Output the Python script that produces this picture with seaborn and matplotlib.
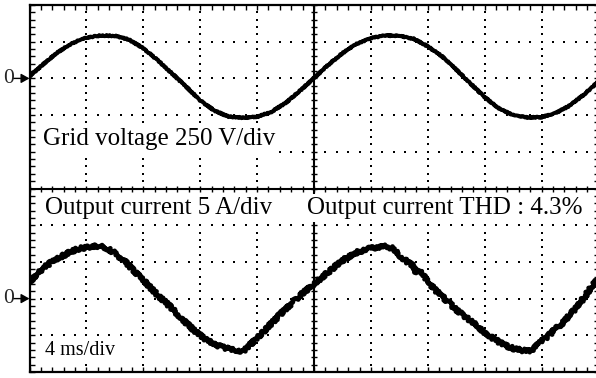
import numpy as np
import pandas as pd
import matplotlib
matplotlib.use("Agg")
import matplotlib.pyplot as plt
import seaborn as sns

# ---- scope settings -------------------------------------------------------
MS_PER_DIV = 4        # horizontal scale
VOLT_PER_DIV = 250    # channel 1: grid voltage
AMP_PER_DIV = 5       # channel 2: output current
VOLT_ZERO_DIV = 3     # ground marker of channel 1 (divisions above centre)
CURR_ZERO_DIV = -3    # ground marker of channel 2 (divisions below centre)

# ---- captured traces --------------------------------------------------------
t_voltage_ms = list(range(0, 41))
grid_voltage_V = [14, 100, 180, 240, 278, 292, 290, 264, 205, 125,
                  35, -55, -150, -220, -260, -268, -262, -228, -168, -85,
                  2, 92, 172, 236, 274, 292, 290, 270, 218, 150,
                  60, -35, -128, -205, -250, -266, -264, -236, -184, -108,
                  -20]

t_current_ms = [0.0, 0.5, 1.0, 1.5, 2.0, 2.5, 3.0, 3.5, 4.0, 4.5,
                5.0, 5.5, 6.0, 6.5, 7.0, 7.5, 8.0, 8.5, 9.0, 9.5,
                10.0, 10.5, 11.0, 11.5, 12.0, 12.5, 13.0, 13.5, 14.0, 14.5,
                15.0, 15.3, 15.7, 16.5, 17.0, 17.5, 18.0, 18.5, 19.0, 19.5,
                20.0, 20.5, 21.0, 21.5, 22.0, 22.5, 23.0, 23.5, 24.0, 24.5,
                25.0, 25.5, 26.0, 26.5, 27.0, 27.2, 27.4, 28.0, 28.5, 29.0,
                29.5, 30.0, 30.5, 31.0, 31.5, 32.0, 32.5, 33.0, 33.5, 34.0,
                34.5, 35.0, 35.3, 35.9, 36.5, 37.0, 37.5, 38.0, 38.5, 39.0,
                39.5, 40.0]
output_current_A = [2.3, 3.3, 4.2, 4.9, 5.5, 6.0, 6.5, 6.8, 7.0, 7.15,
                    7.1, 6.8, 6.2, 5.4, 4.5, 3.5, 2.5, 1.5, 0.5, -0.4,
                    -1.3, -2.3, -3.3, -4.2, -5.0, -5.7, -6.2, -6.6, -6.85, -7.0,
                    -7.2, -6.7, -5.9, -4.4, -3.4, -2.4, -1.4, -0.5, 0.4, 1.2,
                    2.0, 2.8, 3.6, 4.4, 5.2, 5.8, 6.3, 6.6, 6.9, 7.0,
                    7.1, 6.9, 5.9, 5.1, 4.4, 3.5, 3.8, 2.3, 1.2, 0.3,
                    -0.6, -1.5, -2.3, -3.0, -3.8, -4.6, -5.3, -5.9, -6.4, -6.8,
                    -7.0, -7.15, -7.0, -6.0, -5.0, -4.1, -3.3, -2.2, -1.1, 0.2,
                    1.6, 2.7]

voltage_label = "Grid voltage 250 V/div"
current_label = "Output current 5 A/div"
thd_label = "Output current THD : 4.3%"
time_label = "4 ms/div"

# ---- convert to screen divisions ---------------------------------------------
volt_df = pd.DataFrame({
    "x": np.array(t_voltage_ms) / MS_PER_DIV,
    "y": VOLT_ZERO_DIV + np.array(grid_voltage_V) / VOLT_PER_DIV,
})
curr_df = pd.DataFrame({
    "x": np.array(t_current_ms) / MS_PER_DIV,
    "y": CURR_ZERO_DIV + np.array(output_current_A) / AMP_PER_DIV,
})

sns.set_theme(style="white")
plt.rcParams["font.family"] = ["Liberation Serif", "DejaVu Serif"]

W, H = 596, 378
fig = plt.figure(figsize=(W / 100, H / 100), dpi=100)
fig.patch.set_facecolor("white")

# screen area: 10 x 10 divisions, right edge runs just past the image
left_px, top_px, bottom_px, div_px = 29.5, 5.0, 372.0, 56.9
ax = fig.add_axes([left_px / W, (H - bottom_px) / H,
                   10 * div_px / W, (bottom_px - top_px) / H])
ax.set_xlim(0, 10)
ax.set_ylim(-5, 5)
ax.set_facecolor("white")

minor = np.round(np.arange(0, 10.001, 0.2), 2)
minor_y = np.round(np.arange(-5, 5.001, 0.2), 2)

# dotted graticule
dots_x, dots_y = [], []
for k in [1, 2, 3, 4, 6, 7, 8, 9]:
    dots_x += [k] * len(minor_y)
    dots_y += list(minor_y)
for j in [-4, -3, -2, -1, 1, 2, 3, 4]:
    dots_x += list(minor)
    dots_y += [j] * len(minor)
ax.scatter(dots_x, dots_y, s=2.8, marker="s", color="black", linewidths=0, zorder=1)

# centre axes with minor ticks
ax.axhline(0, color="black", lw=1.5, zorder=2)
ax.axvline(5, color="black", lw=1.5, zorder=2)
ax.plot(minor, np.zeros_like(minor), ls="none", marker="|", ms=5, mew=1.0,
        color="black", zorder=2)
ax.plot(np.full_like(minor_y, 5), minor_y, ls="none", marker="_", ms=5, mew=1.0,
        color="black", zorder=2)

# frame with inward ticks
for side in ["left", "right", "top", "bottom"]:
    ax.spines[side].set_visible(True)
    ax.spines[side].set_color("black")
    ax.spines[side].set_linewidth(1.6)
ax.set_xticks(minor)
ax.set_yticks(minor_y)
ax.tick_params(direction="in", length=3.5, width=1.0, color="black",
               top=True, bottom=True, left=True, right=True,
               labelbottom=False, labelleft=False)
ax.grid(False)

# traces (sketch params give the fuzzy phosphor look of a captured signal)
sns.lineplot(data=volt_df, x="x", y="y", ax=ax, color="black", lw=2.9,
             estimator=None, sort=False, zorder=3)
ax.lines[-1].set_sketch_params(scale=0.6, length=3, randomness=2)
sns.lineplot(data=curr_df, x="x", y="y", ax=ax, color="black", lw=3.4,
             estimator=None, sort=False, zorder=3)
ax.lines[-1].set_sketch_params(scale=1.8, length=2.5, randomness=3)
ax.set_xlabel("")
ax.set_ylabel("")

# ground markers
for zero in [VOLT_ZERO_DIV, CURR_ZERO_DIV]:
    ax.annotate("", xy=(0, zero), xytext=(-16, 0), textcoords="offset pixels",
                annotation_clip=False,
                arrowprops=dict(arrowstyle="-|>,head_length=0.5,head_width=0.28",
                                color="black", lw=1.0, shrinkA=0, shrinkB=0,
                                mutation_scale=10))
    ax.annotate("0", xy=(0, zero), xytext=(-21, 0), textcoords="offset pixels",
                ha="center", va="center", fontsize=15.5, annotation_clip=False)

# screen annotations on a blanked background
def px_text(x, y_base, s, size):
    fig.text(x / W, 1 - y_base / H, s, fontsize=size, ha="left", va="baseline",
             color="black", zorder=5,
             bbox=dict(boxstyle="square,pad=0.12", fc="white", ec="none"))

px_text(43, 145, voltage_label, 18)
px_text(45, 214, current_label, 18)
px_text(307, 214, thd_label, 18)
px_text(45, 355, time_label, 14.5)

fig.savefig("out.png", dpi=100, facecolor="white")
